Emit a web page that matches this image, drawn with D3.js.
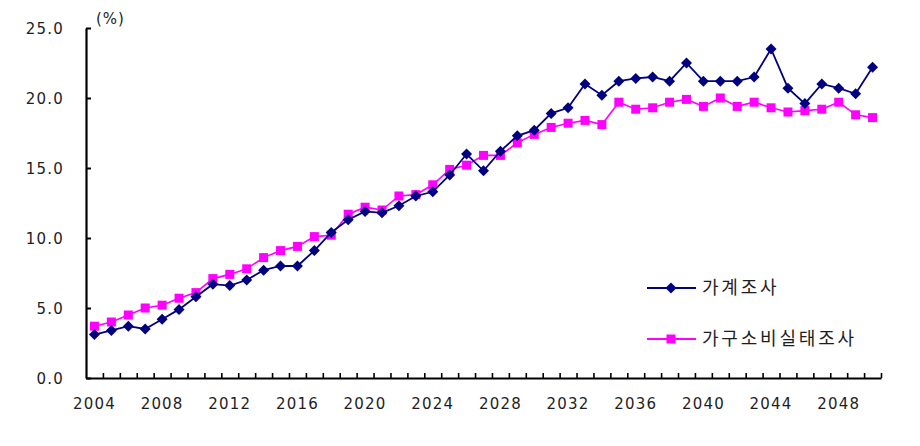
<!DOCTYPE html>
<html>
<head>
<meta charset="utf-8">
<script src="https://cdn.jsdelivr.net/npm/d3@7/dist/d3.min.js"></script>
<style>
  html, body { margin: 0; padding: 0; background: #fff; }
  svg { display: block; }
  text { font-family: "DejaVu Sans", sans-serif; fill: #1e1e1e; }
  .kr { font-family: "Noto Sans CJK KR", sans-serif; }
</style>
</head>
<body>
<svg id="chart" width="920" height="446"></svg>
<script>
const years = d3.range(2004, 2051);
const householdSurvey = [3.1, 3.4, 3.7, 3.5, 4.2, 4.9, 5.8, 6.7, 6.6, 7.0, 7.7, 8.0, 8.0, 9.1, 10.4, 11.3, 11.9, 11.8, 12.3, 13.0,
  13.3, 14.5, 16.0, 14.8, 16.2, 17.3, 17.7, 18.9, 19.3, 21.0, 20.2, 21.2, 21.4, 21.5, 21.2, 22.5, 21.2, 21.2, 21.2, 21.5,
  23.5, 20.7, 19.6, 21.0, 20.7, 20.3, 22.2];
const consumptionSurvey = [3.7, 4.0, 4.5, 5.0, 5.2, 5.7, 6.1, 7.1, 7.4, 7.8, 8.6, 9.1, 9.4, 10.1, 10.2, 11.7, 12.2, 12.0, 13.0, 13.1,
  13.8, 14.9, 15.2, 15.9, 15.9, 16.8, 17.4, 17.9, 18.2, 18.4, 18.1, 19.7, 19.2, 19.3, 19.7, 19.9, 19.4, 20.0, 19.4, 19.7,
  19.3, 19.0, 19.1, 19.2, 19.7, 18.8, 18.6];
const yTicks = [0, 5, 10, 15, 20, 25];
const xLabelYears = [2004, 2008, 2012, 2016, 2020, 2024, 2028, 2032, 2036, 2040, 2044, 2048];
const seriesNames = ["가계조사", "가구소비실태조사"];
const unitLabel = "(%)";

const svg = d3.select("#chart");
const mLeft = 86, mRight = 881, mTop = 28, mBottom = 378;

const x = d3.scaleBand().domain(years).range([mLeft, mRight]).padding(0);
const y = d3.scaleLinear().domain([0, 25]).range([mBottom, mTop]);
const cx = d => x(d) + x.bandwidth() / 2;

// y axis
const yAxis = svg.append("g").attr("transform", `translate(${mLeft},0)`)
  .call(d3.axisLeft(y).tickValues(yTicks).tickFormat(d3.format(".1f")).tickSizeInner(-5).tickSizeOuter(0).tickPadding(22));
yAxis.select(".domain").attr("stroke", "#000").attr("stroke-width", 2.2);
yAxis.selectAll(".tick line").attr("stroke", "#000").attr("stroke-width", 2);
yAxis.selectAll("text").attr("font-size", 15).attr("letter-spacing", 1.2)
  .attr("font-family", "DejaVu Sans, sans-serif").attr("fill", "#1e1e1e").attr("dy", "0.36em");

// x axis ticks at band edges
const edges = years.slice(1).map(d => x(d)).concat([mRight]);
const xLin = d3.scaleLinear().domain([mLeft, mRight]).range([mLeft, mRight]);
const xAxis = svg.append("g").attr("transform", `translate(0,${mBottom})`)
  .call(d3.axisBottom(xLin).tickValues(edges).tickFormat("").tickSizeInner(-5).tickSizeOuter(0));
xAxis.select(".domain").attr("stroke", "#000").attr("stroke-width", 2.2);
xAxis.selectAll(".tick line").attr("stroke", "#000").attr("stroke-width", 1.6);

// x labels at band centres
const xLab = svg.append("g").attr("transform", `translate(0,${mBottom})`)
  .call(d3.axisBottom(x).tickValues(xLabelYears).tickSize(0).tickPadding(20));
xLab.select(".domain").remove();
xLab.selectAll("text").attr("font-size", 15).attr("letter-spacing", 1.2)
  .attr("font-family", "DejaVu Sans, sans-serif").attr("fill", "#1e1e1e");

svg.append("text").attr("x", 96).attr("y", 24).attr("font-size", 15).attr("letter-spacing", 1).text(unitLabel);

const line = d3.line().x((d, i) => cx(years[i])).y(d => y(d));

// pink series
svg.append("path").datum(consumptionSurvey).attr("d", line)
  .attr("fill", "none").attr("stroke", "#FF00FF").attr("stroke-width", 1.6);
svg.append("g").selectAll("rect").data(consumptionSurvey).join("rect")
  .attr("x", (d, i) => cx(years[i]) - 4.5).attr("y", d => y(d) - 4.5)
  .attr("width", 9).attr("height", 9).attr("fill", "#FF00FF");

// navy series
svg.append("path").datum(householdSurvey).attr("d", line)
  .attr("fill", "none").attr("stroke", "#000080").attr("stroke-width", 1.8);
const diamond = (px, py, r) => `M${px},${py - r}L${px + r},${py}L${px},${py + r}L${px - r},${py}Z`;
svg.append("g").selectAll("path").data(householdSurvey).join("path")
  .attr("d", (d, i) => diamond(cx(years[i]), y(d), 5.5)).attr("fill", "#000080");

// legend
const leg = svg.append("g");
const legY = [288, 339];
leg.append("line").attr("x1", 647).attr("x2", 696).attr("y1", legY[0]).attr("y2", legY[0])
  .attr("stroke", "#000080").attr("stroke-width", 2.2);
leg.append("path").attr("d", diamond(671, legY[0], 5.5)).attr("fill", "#000080");
leg.append("line").attr("x1", 647).attr("x2", 696).attr("y1", legY[1]).attr("y2", legY[1])
  .attr("stroke", "#FF00FF").attr("stroke-width", 2.2);
leg.append("rect").attr("x", 671 - 4.5).attr("y", legY[1] - 4.5).attr("width", 9).attr("height", 9).attr("fill", "#FF00FF");
seriesNames.forEach((n, i) => {
  leg.append("text").attr("class", "kr").attr("x", 702).attr("y", legY[i]).attr("dy", "0.36em")
    .attr("font-size", 18).attr("letter-spacing", 2.8).text(n);
});
</script>
</body>
</html>
